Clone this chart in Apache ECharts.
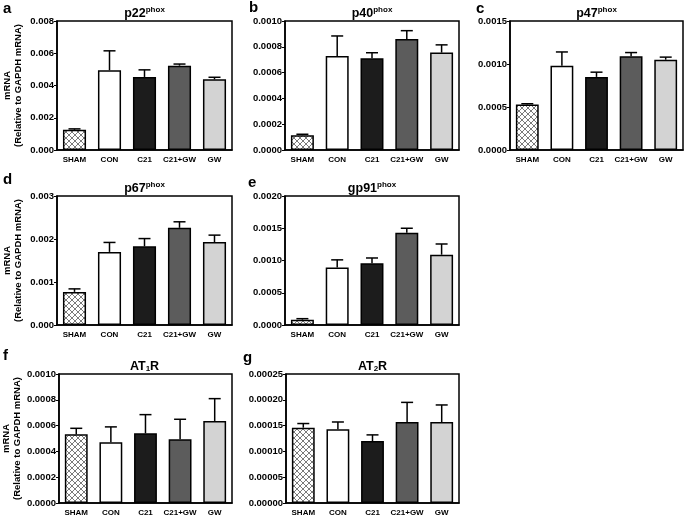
<!DOCTYPE html>
<html>
<head>
<meta charset="utf-8">
<script src="https://cdn.jsdelivr.net/npm/echarts@6/dist/echarts.min.js"></script>
<style>html,body{margin:0;padding:0;background:#fff}#c{width:685px;height:517px}</style>
</head>
<body>
<div id="c"></div>
<script>
const categories = ['SHAM', 'CON', 'C21', 'C21+GW', 'GW'];

const p22Mean = [0.00125, 0.00495, 0.00453, 0.00523, 0.00438];
const p22Sem  = [0.00006, 0.00120, 0.00044, 0.00010, 0.00013];
const p40Mean = [0.000114, 0.000729, 0.000711, 0.000860, 0.000755];
const p40Sem  = [0.000008, 0.000155, 0.000043, 0.000065, 0.000060];
const p47Mean = [0.000530, 0.000980, 0.000850, 0.001090, 0.001050];
const p47Sem  = [0.000008, 0.000160, 0.000055, 0.000043, 0.000030];
const p67Mean = [0.00077, 0.00170, 0.00183, 0.00226, 0.00193];
const p67Sem  = [0.00007, 0.00022, 0.00018, 0.00014, 0.00016];
const gp91Mean = [0.000083, 0.000890, 0.000956, 0.001430, 0.001090];
const gp91Sem  = [0.000015, 0.000120, 0.000083, 0.000070, 0.000166];
const at1Mean = [0.000532, 0.000470, 0.000540, 0.000494, 0.000636];
const at1Sem  = [0.000047, 0.000120, 0.000145, 0.000155, 0.000173];
const at2Mean = [0.000146, 0.000143, 0.000120, 0.000157, 0.000157];
const at2Sem  = [0.000008, 0.000014, 0.000012, 0.000038, 0.000033];

// y-axis ranges
const yMax = [0.008, 0.0010, 0.0015, 0.003, 0.0020, 0.0010, 0.00025];
const yInterval = [0.002, 0.0002, 0.0005, 0.001, 0.0005, 0.0002, 0.00005];
const yDecimals = [3, 4, 4, 3, 4, 4, 5];

const panelLetters = ['a', 'b', 'c', 'd', 'e', 'f', 'g'];
const titleMain = ['p22', 'p40', 'p47', 'p67', 'gp91', 'AT', 'AT'];
const titleSup = ['phox', 'phox', 'phox', 'phox', 'phox', '', ''];
const titleSub = ['', '', '', '', '', '1', '2'];

const means = [p22Mean, p40Mean, p47Mean, p67Mean, gp91Mean, at1Mean, at2Mean];
const sems = [p22Sem, p40Sem, p47Sem, p67Sem, gp91Sem, at1Sem, at2Sem];

// layout
const grids = [
  {left: 57, top: 21, width: 175, height: 129},
  {left: 285, top: 21, width: 174, height: 129},
  {left: 510, top: 21, width: 173, height: 129},
  {left: 57, top: 196, width: 175, height: 129},
  {left: 285, top: 196, width: 174, height: 129},
  {left: 57, top: 374, width: 175, height: 129},
  {left: 286, top: 374, width: 173, height: 129}
];
const letterPos = [[3, 1], [249, 0], [476, 1], [3, 172], [248, 175], [3, 348], [243, 350]];
const showYName = [true, false, false, true, false, true, false];

// crosshatch pattern
const pat = document.createElement('canvas');
pat.width = 6; pat.height = 6;
const pc = pat.getContext('2d');
pc.fillStyle = '#fff'; pc.fillRect(0, 0, 6, 6);
pc.strokeStyle = '#7a7a7a'; pc.lineWidth = 1;
pc.beginPath();
pc.moveTo(0, 0); pc.lineTo(6, 6);
pc.moveTo(6, 0); pc.lineTo(0, 6);
pc.stroke();

const barColors = [{image: pat, repeat: 'repeat'}, '#ffffff', '#1c1c1c', '#5c5c5c', '#d3d3d3'];

const FONT = 'Liberation Sans, Arial, sans-serif';

const option = {
  animation: false,
  backgroundColor: '#fff',
  grid: [], xAxis: [], yAxis: [], series: [], title: [], graphic: []
};

for (let i = 0; i < 7; i++) {
  const g = grids[i];
  option.grid.push(Object.assign({show: true, borderColor: '#000', borderWidth: 1.5, backgroundColor: 'transparent'}, g));
  option.xAxis.push({
    type: 'category', gridIndex: i, data: categories,
    axisLine: {lineStyle: {color: '#000', width: 1.5}},
    axisTick: {show: false},
    axisLabel: {color: '#000', fontWeight: 'bold', fontSize: 8, fontFamily: FONT, margin: 6, interval: 0}
  });
  const dec = yDecimals[i];
  option.yAxis.push({
    type: 'value', gridIndex: i, min: 0, max: yMax[i], interval: yInterval[i],
    axisLine: {show: true, lineStyle: {color: '#000', width: 1.5}},
    axisTick: {show: true, inside: false, length: 3, lineStyle: {color: '#000', width: 1}},
    splitLine: {show: false},
    axisLabel: {color: '#000', fontWeight: 'bold', fontSize: 9.5, fontFamily: FONT, margin: 3,
      formatter: v => v.toFixed(dec)},
    name: showYName[i] ? 'mRNA\n(Relative to GAPDH mRNA)' : '',
    nameLocation: 'middle', nameGap: 33, nameRotate: 90,
    nameTextStyle: {color: '#000', fontWeight: 'bold', fontSize: 9.5, fontFamily: FONT, lineHeight: 11}
  });
  option.series.push({
    type: 'bar', xAxisIndex: i, yAxisIndex: i, barWidth: '66%',
    data: means[i].map((v, k) => ({value: v, itemStyle: {color: barColors[k]}})),
    itemStyle: {borderColor: '#000', borderWidth: 1.5},
    z: 2
  });
  option.series.push({
    type: 'custom', xAxisIndex: i, yAxisIndex: i, z: 3,
    data: means[i].map((v, k) => [k, v, v + sems[i][k]]),
    renderItem: function (params, api) {
      const p0 = api.coord([api.value(0), api.value(1)]);
      const p1 = api.coord([api.value(0), api.value(2)]);
      const st = {stroke: '#000', lineWidth: 1.5};
      return {type: 'group', children: [
        {type: 'line', shape: {x1: p0[0], y1: p0[1], x2: p1[0], y2: p1[1]}, style: st},
        {type: 'line', shape: {x1: p1[0] - 6, y1: p1[1], x2: p1[0] + 6, y2: p1[1]}, style: st}
      ]};
    }
  });
  let txt;
  if (titleSup[i]) txt = '{m|' + titleMain[i] + '}{s|' + titleSup[i] + '}';
  else txt = '{m|' + titleMain[i] + '}{b|' + titleSub[i] + '}{m|R}';
  option.title.push({
    text: txt, padding: 0,
    left: g.left + g.width / 2, top: g.top - 15, textAlign: 'center',
    textStyle: {
      rich: {
        m: {fontSize: 12.5, fontWeight: 'bold', fontFamily: FONT, color: '#000', verticalAlign: 'bottom', lineHeight: 14},
        s: {fontSize: 8, fontWeight: 'bold', fontFamily: FONT, color: '#000', verticalAlign: 'top', padding: [0, 0, 5, 0], lineHeight: 14},
        b: {fontSize: 8, fontWeight: 'bold', fontFamily: FONT, color: '#000', verticalAlign: 'bottom', padding: [5, 0, 0, 0], lineHeight: 10}
      }
    }
  });
  option.graphic.push({
    type: 'text', left: letterPos[i][0], top: letterPos[i][1],
    style: {text: panelLetters[i], font: 'bold 15px ' + FONT, fill: '#000'}
  });
}

const chart = echarts.init(document.getElementById('c'), null, {renderer: 'canvas'});
chart.setOption(option);
</script>
</body>
</html>
